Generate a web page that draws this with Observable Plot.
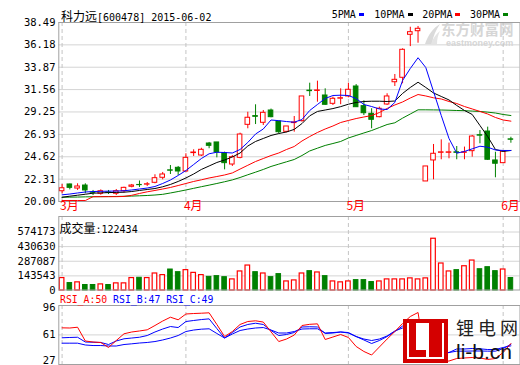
<!DOCTYPE html>
<html><head><meta charset="utf-8">
<script src="https://cdn.jsdelivr.net/npm/d3@7"></script>
<script src="https://cdn.jsdelivr.net/npm/@observablehq/plot@0.6"></script>
<style>
body{margin:0;background:#fff;}
#wrap{position:relative;width:520px;height:365px;overflow:hidden;background:#fff;}
.t{position:absolute;white-space:nowrap;line-height:1;}
.cjk{font-family:"Noto Sans CJK SC",sans-serif;}
.mono{font-family:"DejaVu Sans Mono",monospace;}
</style></head><body><div id="wrap"></div>
<script>
// ---- data ----
const monthStarts = [0, 16, 37, 57];
const monthLabels = ["3月", "4月", "5月", "6月"];
const priceTicks = [20.00, 22.31, 24.62, 26.93, 29.25, 31.56, 33.87, 36.18, 38.49];
const volTicks = [0, 143543, 287087, 430630, 574173];
const rsiTicks = [27, 61, 96];

const open = [21.06,21.76,21.34,21.65,20.93,20.80,20.93,20.80,21.06,21.52,
  21.71,21.74,21.93,22.45,23.22,23.48,23.10,25.00,24.75,25.99,
  26.10,24.99,23.82,24.51,27.92,28.82,28.13,29.40,28.26,27.20,
  28.10,28.30,31.45,31.42,30.95,30.09,30.62,30.85,31.88,29.85,
  29.06,28.71,30.02,32.32,32.78,37.22,37.59,22.07,24.24,25.03,
  25.03,25.08,25.03,25.20,26.85,27.23,24.24,23.96,26.42];
const close = [21.37,21.41,21.55,21.14,20.90,21.06,20.90,21.06,21.41,21.65,
  21.69,21.78,22.41,22.79,23.18,23.10,24.51,25.06,25.34,25.75,
  25.06,23.96,24.58,26.92,28.65,28.75,29.16,28.71,27.16,27.75,
  28.16,30.85,31.40,31.47,29.99,30.61,30.67,31.54,29.74,29.12,
  28.44,29.58,30.85,32.57,35.67,37.49,37.84,23.62,24.93,25.08,
  25.08,25.03,25.08,26.71,26.80,24.31,23.90,25.16,26.38];
const high = [21.76,21.80,21.83,21.83,21.14,21.20,21.14,21.24,21.48,21.76,
  22.12,21.96,22.76,23.00,23.72,23.62,24.93,25.34,25.50,26.10,
  26.10,25.10,24.75,27.06,29.22,29.99,29.40,29.55,28.26,27.75,
  28.78,30.85,32.22,32.43,31.64,30.78,31.64,32.22,32.08,30.40,
  29.58,29.75,31.13,33.12,35.77,38.00,38.08,23.62,25.89,26.37,
  26.03,25.68,25.62,26.82,27.33,27.68,25.09,25.25,26.64];
const low = [20.80,21.20,21.14,20.80,20.62,20.65,20.72,20.62,20.90,21.41,
  21.45,21.55,21.83,22.24,22.79,22.69,23.03,24.65,24.65,25.45,
  24.51,23.27,23.62,24.41,27.51,27.95,27.85,28.65,27.00,27.10,
  27.16,28.20,30.85,30.26,29.92,29.92,30.00,30.71,29.74,28.88,
  27.51,28.65,29.92,31.88,32.16,36.00,36.35,22.07,22.24,24.31,
  24.41,24.31,24.31,24.58,25.96,24.24,22.45,23.96,26.02];
const volume = [122000,73000,80000,54000,54000,60000,54000,70000,70000,122000,
  125000,122000,167000,151000,206000,180000,200000,173000,151000,134000,
  141000,131000,109000,187000,245000,180000,167000,131000,161000,89000,
  99000,167000,190000,177000,141000,89000,80000,89000,102000,102000,
  83000,89000,109000,109000,109000,119000,109000,119000,508000,265000,
  187000,200000,238000,294000,209000,229000,190000,206000,122434];
const ma5 = [20.69,20.77,20.88,20.98,21.03,21.05,21.07,21.08,21.11,21.19,
  21.29,21.39,21.55,21.86,22.22,22.69,23.20,23.82,24.44,24.93,
  25.09,25.06,25.01,25.37,26.10,26.97,27.49,28.42,28.35,28.26,
  28.19,28.47,29.40,30.02,30.64,30.95,30.98,30.95,30.64,30.02,
  29.81,29.56,29.50,30.23,32.50,33.74,34.85,33.84,31.36,28.88,
  26.51,24.99,25.17,25.44,25.71,25.61,25.32,25.27,25.27];
const ma10 = [20.44,20.55,20.65,20.75,20.86,20.89,20.92,20.94,20.96,21.03,
  21.14,21.24,21.34,21.52,21.76,22.07,22.43,22.84,23.31,23.67,
  24.03,24.29,24.60,25.01,25.73,26.20,26.51,26.82,27.02,27.18,
  27.45,28.05,28.85,29.30,29.45,29.60,29.80,30.05,30.23,30.33,
  30.36,30.36,30.33,30.38,31.16,31.78,32.32,31.78,31.21,30.85,
  30.49,29.92,29.40,28.99,27.85,26.71,25.37,25.17,25.27];
const ma20 = [20.10,20.10,20.10,20.10,20.50,20.50,20.50,20.50,20.52,20.64,
  20.83,21.00,21.14,21.29,21.45,21.65,21.86,22.07,22.24,22.43,
  22.58,22.74,22.95,23.35,23.74,24.13,24.44,24.75,25.01,25.37,
  25.68,26.25,26.71,27.13,27.49,27.80,28.16,28.37,28.57,28.73,
  28.88,29.19,29.61,29.97,30.28,30.69,31.05,30.90,30.71,30.59,
  30.33,30.12,29.81,29.56,29.30,29.04,28.68,28.42,28.30];
const ma30 = [20.44,20.45,20.46,20.48,20.49,20.50,20.51,20.52,20.54,20.56,
  20.59,20.62,20.67,20.74,20.88,21.03,21.19,21.36,21.53,21.69,
  21.86,22.04,22.23,22.48,22.76,23.03,23.31,23.62,23.86,24.10,
  24.34,24.75,25.22,25.51,25.79,25.99,26.20,26.56,26.82,27.08,
  27.33,27.64,27.95,28.13,28.61,29.04,29.47,29.47,29.46,29.45,
  29.43,29.40,29.38,29.34,29.30,29.23,29.14,28.99,28.88];
const rsiA = [70.0,69.8,70.8,53.2,51.9,51.3,44.9,53.8,62.4,64.7,
  66.0,67.5,73.0,78.7,83.6,80.3,87.7,88.3,88.7,89.2,
  74.3,58.9,65.3,74.3,78.1,79.0,77.4,64.9,52.5,55.7,
  60.8,73.0,74.5,75.1,55.1,58.3,61.5,57.7,46.2,39.8,
  35.3,45.5,55.7,65.3,75.5,84.5,89.6,25.7,26.4,27.0,
  27.6,30.8,31.5,32.1,31.5,29.6,30.8,38.5,50.0];
const rsiB = [57.3,57.7,58.0,51.9,51.6,51.3,48.7,53.2,56.0,57.0,
  58.0,60.2,64.7,68.5,71.7,70.4,78.1,79.4,80.6,81.5,
  69.1,57.0,64.0,71.1,74.3,75.9,74.3,66.6,60.2,61.5,
  64.0,71.1,71.4,71.1,62.8,63.4,64.7,64.0,58.9,54.5,
  50.0,53.8,58.9,65.3,72.3,73.0,74.3,38.5,37.2,37.2,
  38.5,43.0,43.0,43.6,43.2,42.3,42.3,44.9,47.0];
const rsiC = [50.4,50.4,50.4,48.1,47.4,47.4,46.8,46.8,48.7,49.6,
  50.6,51.3,52.5,54.5,57.0,60.2,65.3,67.2,68.3,68.8,
  62.8,57.0,62.1,66.6,68.5,69.8,70.4,67.2,63.4,63.4,
  65.3,68.5,68.8,68.8,63.4,64.0,64.7,63.4,58.9,55.7,
  53.8,55.7,59.6,66.0,69.8,71.1,71.7,36.6,36.6,37.2,
  38.5,40.2,40.2,40.4,40.4,40.2,40.2,43.6,49.0];

// ---- table built from the arrays ----
const rows = close.map((c, i) => ({
  i, open: open[i], high: high[i], low: low[i], close: c, volume: volume[i],
  ma5: ma5[i], ma10: ma10[i], ma20: ma20[i], ma30: ma30[i],
  rsiA: rsiA[i], rsiB: rsiB[i], rsiC: rsiC[i]
}));
const up = d => d.close >= d.open;
const dn = d => d.close < d.open;
const RED = "#ff0000", GREEN = "#008000", BLUE = "#0000ff";
const GRID = "#d4d4d4", FRAME = "#a0a0a0", DASH = "#c4c4c4";

const wrap = document.getElementById("wrap");
function add(el) { el.style.position = "absolute"; el.style.left = "0px"; el.style.top = "0px"; wrap.appendChild(el); return el; }
function txt(html, cls, css) { const d = document.createElement("div"); d.className = "t " + cls; d.innerHTML = html; Object.assign(d.style, css); wrap.appendChild(d); return d; }

// watermark (behind the chart)
const sw = document.createElementNS("http://www.w3.org/2000/svg", "svg");
sw.setAttribute("width", "18"); sw.setAttribute("height", "22");
sw.innerHTML = '<path d="M2,21 C5,12 10,5 17,1 C13,7 10,13 9,21 Z" fill="#dadada"/><path d="M8,21 C10,15 13,11 17,8 C15,12 14,16 14,21 Z" fill="#e4e4e4"/>';
Object.assign(sw.style, {position: "absolute", left: "423px", top: "23px"});
wrap.appendChild(sw);
txt("东方财富网", "cjk", {left: "441px", top: "22px", fontSize: "14.5px", fontWeight: "bold", color: "#d6d6d6", height: "15px"});
txt("eastmoney.com", "", {left: "446px", top: "39px", fontSize: "9px", fontWeight: "bold", color: "#d6d6d6", fontFamily: "Liberation Sans, sans-serif"});

const xScale = () => ({type: "band", domain: rows.map(d => d.i), paddingInner: 0.33, paddingOuter: 0.466, align: 0.098, axis: null});
const common = {width: 520, height: 365, marginLeft: 58.3, marginRight: 0.5,
  style: {background: "transparent", fontFamily: "DejaVu Sans Mono, monospace", fontSize: "10.5px", color: "#000", overflow: "visible"}};

// main candlestick panel
add(Plot.plot({...common, marginTop: 22, marginBottom: 164,
  x: xScale(),
  y: {domain: [20, 38.49], ticks: priceTicks, tickFormat: d => d.toFixed(2), tickSize: 0, tickPadding: 3.3, label: null},
  marks: [
    Plot.ruleY(priceTicks, {stroke: GRID}),
    Plot.ruleX(monthStarts, {stroke: DASH, strokeDasharray: "4,3"}),
    Plot.ruleX(rows, {filter: up, x: "i", y1: "low", y2: "high", stroke: RED}),
    Plot.ruleX(rows, {filter: dn, x: "i", y1: "low", y2: "high", stroke: GREEN}),
    Plot.barY(rows, {filter: up, x: "i", y1: "open", y2: "close", fill: "white", stroke: RED, insetLeft: 0.3, insetRight: 0.3}),
    Plot.barY(rows, {filter: dn, x: "i", y1: "open", y2: "close", fill: GREEN, stroke: GREEN, insetLeft: 0.3, insetRight: 0.3}),
    Plot.line(rows, {x: "i", y: "ma30", stroke: GREEN, strokeWidth: 1}),
    Plot.line(rows, {x: "i", y: "ma20", stroke: RED, strokeWidth: 1}),
    Plot.line(rows, {x: "i", y: "ma10", stroke: "#000", strokeWidth: 1}),
    Plot.line(rows, {x: "i", y: "ma5", stroke: BLUE, strokeWidth: 1}),
    Plot.frame({stroke: FRAME}),
    Plot.text(monthStarts, {x: d => d, text: (d, k) => monthLabels[k], frameAnchor: "bottom", dy: 8, dx: -2,
      textAnchor: "start", fill: RED, fontSize: 12, fontFamily: "Noto Sans CJK SC"})
  ]
}));

// volume panel
add(Plot.plot({...common, marginTop: 216, marginBottom: 75.5,
  x: xScale(),
  y: {domain: [0, 574173], range: [290, 231.5], ticks: volTicks, tickFormat: d => String(d), tickSize: 0, tickPadding: 3.3, label: null},
  marks: [
    Plot.ruleY(volTicks.filter(v => v > 0), {stroke: GRID}),
    Plot.ruleX(monthStarts, {stroke: DASH, strokeDasharray: "4,3"}),
    Plot.barY(rows, {filter: up, x: "i", y: "volume", fill: "white", stroke: RED, strokeWidth: 1.2, insetLeft: 0.3, insetRight: 0.3}),
    Plot.barY(rows, {filter: dn, x: "i", y: "volume", fill: GREEN, stroke: GREEN, insetLeft: 0.3, insetRight: 0.3}),
    Plot.frame({stroke: FRAME})
  ]
}));

// RSI panel (tick labels as text so the lowest stays inside the picture)
add(Plot.plot({...common, marginTop: 305, marginBottom: 1,
  x: xScale(),
  y: {domain: [27, 96], range: [361, 307], axis: null},
  marks: [
    Plot.ruleY([61], {stroke: GRID}),
    Plot.ruleX(monthStarts, {stroke: DASH, strokeDasharray: "4,3"}),
    Plot.line(rows, {x: "i", y: "rsiC", stroke: BLUE, strokeWidth: 1}),
    Plot.line(rows, {x: "i", y: "rsiB", stroke: BLUE, strokeWidth: 1}),
    Plot.line(rows, {x: "i", y: "rsiA", stroke: RED, strokeWidth: 1}),
    Plot.frame({stroke: FRAME}),
    Plot.text(rsiTicks.filter(v => v > 27), {y: d => d, text: d => String(d), frameAnchor: "left", textAnchor: "end", dx: -3.3, fill: "#000"}),
    Plot.text(rsiTicks.filter(v => v === 27), {y: d => d, text: d => String(d), frameAnchor: "left", textAnchor: "end", dx: -3.3, lineAnchor: "bottom", dy: 2.5, fill: "#000"})
  ]
}));

// titles / legends
txt('<span class="cjk" style="font-size:12px">科力远</span><span class="mono" style="font-size:10px">[600478] 2015-06-02</span>', "", {left: "61px", top: "8px"});
const leg = [["5PMA", 331.7, 359.3, BLUE], ["10PMA", 374.3, 407.7, "#000"], ["20PMA", 422.3, 455, RED], ["30PMA", 470, 503.3, GREEN]];
leg.forEach(([name, tx, dx, col]) => {
  txt(name, "mono", {left: tx + "px", top: "9.5px", fontSize: "10px", color: "#000"});
  const s = document.createElement("div");
  Object.assign(s.style, {position: "absolute", left: dx + "px", top: "12.5px", width: "5px", height: "3px", background: col});
  wrap.appendChild(s);
});
txt('<span class="cjk" style="font-size:12px">成交量</span><span class="mono" style="font-size:10px">:122434</span>', "", {left: "59.5px", top: "220px"});
txt('<span style="color:#f00">RSI_A:50</span> <span style="color:#00f">RSI_B:47</span> <span style="color:#00f">RSI_C:49</span>', "mono", {left: "60px", top: "295px", fontSize: "9.8px"});

// li-b.cn logo (on top)
const logo = document.createElement("div");
Object.assign(logo.style, {position: "absolute", left: "403px", top: "319px", width: "45px", height: "44px", background: "#d40000"});
logo.innerHTML =
  '<div style="position:absolute;left:4px;top:4px;width:37px;height:36px;background:#fff"></div>' +
  '<div style="position:absolute;left:6px;top:4px;width:7px;height:34px;background:#d40000"></div>' +
  '<div style="position:absolute;left:6px;top:31px;width:17px;height:7px;background:#d40000"></div>' +
  '<div style="position:absolute;left:26px;top:4px;width:13px;height:34px;background:#d40000"></div>';
wrap.appendChild(logo);
[["锂", 456], ["电", 478], ["网", 500]].forEach(([c, x]) =>
  txt(c, "cjk", {left: x + "px", top: "318px", fontSize: "18px", color: "#222"}));
txt("li-b.cn", "", {left: "456px", top: "341px", fontSize: "21px", color: "#111", fontFamily: "Liberation Sans, Arial, sans-serif"});
</script></body></html>
